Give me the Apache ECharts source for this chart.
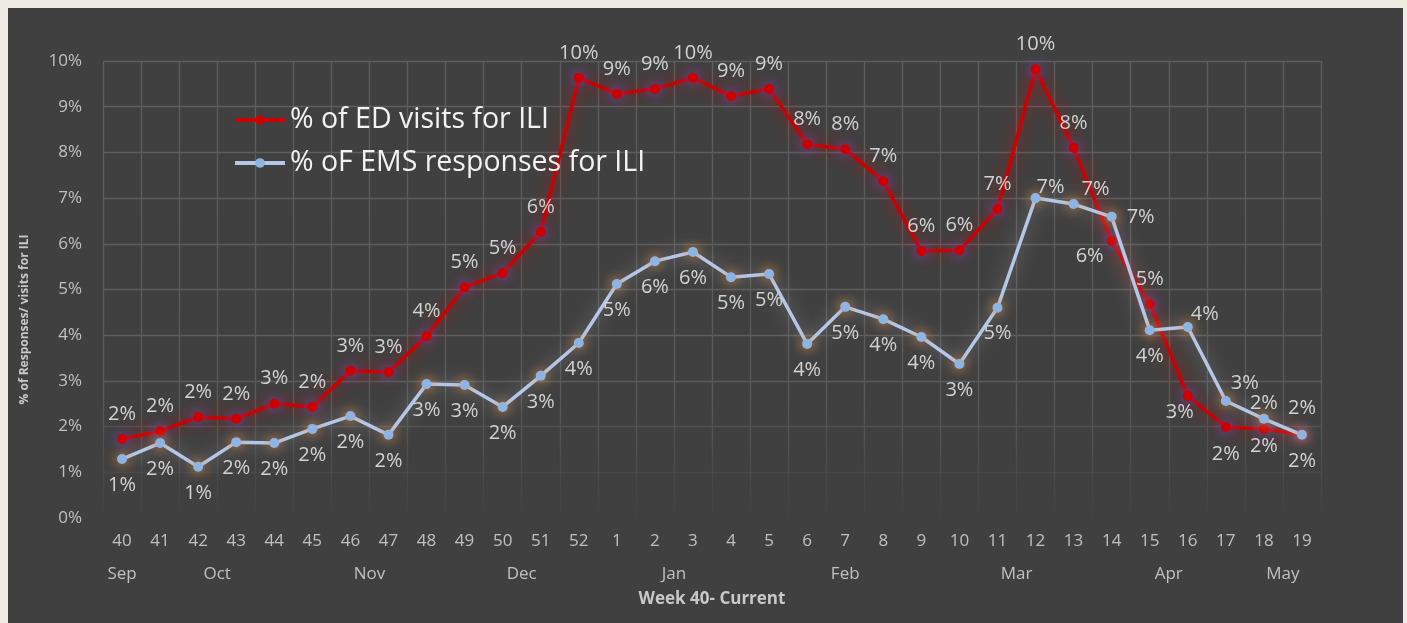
<!DOCTYPE html>
<html><head><meta charset="utf-8">
<script src="https://cdn.jsdelivr.net/npm/echarts@6/dist/echarts.min.js"></script>
<style>
html,body{margin:0;padding:0;background:#eeebe2;width:1407px;height:623px;overflow:hidden}
#chart{position:absolute;left:8px;top:8px;width:1395px;height:615px;background:#404040}
</style></head><body><div id="chart"></div>
<script>
// ---- data ----
const weeks = ['40','41','42','43','44','45','46','47','48','49','50','51','52','1','2','3','4','5','6','7','8','9','10','11','12','13','14','15','16','17','18','19'];
const monthOfWeek = ['Sep','Oct','Oct','Oct','Oct','Nov','Nov','Nov','Nov','Dec','Dec','Dec','Dec','Jan','Jan','Jan','Jan','Feb','Feb','Feb','Feb','Feb','Mar','Mar','Mar','Mar','Apr','Apr','Apr','Apr','May','May'];
const edVisits = [1.73,1.90,2.21,2.17,2.50,2.43,3.22,3.19,3.98,5.05,5.36,6.26,9.63,9.28,9.39,9.63,9.23,9.39,8.18,8.07,7.37,5.84,5.86,6.76,9.82,8.10,6.06,4.68,2.67,1.99,1.95,1.82];
const emsResponses = [1.29,1.64,1.12,1.66,1.64,1.95,2.23,1.82,2.93,2.91,2.43,3.11,3.83,5.12,5.62,5.82,5.27,5.34,3.81,4.62,4.35,3.96,3.37,4.60,7.00,6.87,6.59,4.11,4.18,2.56,2.17,1.82];
const seriesNames = ['% of ED visits for ILI','% oF EMS responses for ILI'];
const yTicks = [0,1,2,3,4,5,6,7,8,9,10];

// ---- month label centres (multi-level category axis) ----
const monthCentres = [];
(function(){
  let start = 0;
  for (let i = 1; i <= monthOfWeek.length; i++) {
    if (i === monthOfWeek.length || monthOfWeek[i] !== monthOfWeek[start]) {
      monthCentres.push({name: monthOfWeek[start], pos: (start + i - 1) / 2});
      start = i;
    }
  }
})();

// ---- label placement overrides (style) ----
const edLabelOv = {
  '14': {position:'bottom', distance:0, offset:[-22,0]},
  '16': {position:'bottom', distance:1, offset:[-8,0]},
  '17': {position:'bottom', distance:12},
  '18': {position:'bottom', distance:2},
  '19': {position:'bottom', distance:11}
};
const emsLabelOv = {
  '12': {position:'top', distance:0, offset:[15,4]},
  '13': {position:'top', distance:0, offset:[22,0]},
  '14': {position:'right', distance:10},
  '16': {position:'top', distance:0, offset:[17,2]},
  '17': {position:'top', distance:0, offset:[19,-3]},
  '18': {position:'top', distance:0, offset:[0,-1]},
  '19': {position:'top', distance:12}
};
function build(vals, ov){
  return vals.map((v,i)=>{
    const o = ov[weeks[i]];
    return o ? {value:v, label:o} : {value:v};
  });
}

const FONT = 'Open Sans';
const labelStyle = {show:true, fontFamily:FONT, fontSize:20, color:'#d2d2d2', formatter: p => Math.round(p.value) + '%'};

const chart = echarts.init(document.getElementById('chart'), null, {renderer:'canvas'});
chart.setOption({
  backgroundColor:'#404040',
  animation:false,
  textStyle:{fontFamily:FONT},
  grid:{left:95, right:82, top:53, bottom:105, containLabel:false},
  legend:{
    orient:'vertical', left:225, top:96, itemGap:11, padding:0,
    itemWidth:50, itemHeight:12,
    lineStyle:{width:4},
    textStyle:{fontFamily:FONT, fontSize:28.5, color:'#f2f2f2', lineHeight:32},
    data:seriesNames
  },
  xAxis:[{
    type:'category', data:weeks, boundaryGap:true,
    axisLine:{show:false}, axisTick:{show:false},
    axisLabel:{color:'#c0c0c0', fontFamily:FONT, fontSize:17, margin:15, interval:0},
    splitLine:{show:true, interval:0, lineStyle:{width:1.3, color:new echarts.graphic.LinearGradient(0,0,0,1,[
      {offset:0,color:'#5e5e5e'},{offset:0.72,color:'#5b5b5b'},{offset:1,color:'#414141'}])}},
    name:'Week 40- Current', nameLocation:'middle', nameGap:73,
    nameTextStyle:{color:'#c8c8c8', fontFamily:FONT, fontSize:17, fontWeight:'bold'}
  },{
    type:'value', min:-0.5, max:weeks.length-0.5, interval:0.5, position:'bottom',
    axisLine:{show:false}, axisTick:{show:false}, splitLine:{show:false},
    axisLabel:{color:'#c0c0c0', fontFamily:FONT, fontSize:17, margin:48, showMinLabel:false, showMaxLabel:false,
      formatter: v => { const m = monthCentres.find(c => Math.abs(c.pos - v) < 0.01); return m ? m.name : ''; }}
  }],
  yAxis:{
    type:'value', min:yTicks[0], max:yTicks[yTicks.length-1], interval:1,
    axisLine:{show:false}, axisTick:{show:false},
    axisLabel:{color:'#c0c0c0', fontFamily:FONT, fontSize:17, margin:21, formatter:'{value}%'},
    splitLine:{show:true, lineStyle:{width:1.3, color:['#414141','#484848','#525252','#5b5b5b','#5e5e5e','#5e5e5e','#5e5e5e','#5e5e5e','#5e5e5e','#5e5e5e','#5e5e5e']}},
    name:'% of Responses/ visits for ILI', nameLocation:'middle', nameGap:72, nameRotate:90,
    nameTextStyle:{color:'#c8c8c8', fontFamily:FONT, fontSize:12, fontWeight:'bold', padding:[0,60,0,0]}
  },
  series:[{
    name:seriesNames[0], type:'line', xAxisIndex:0, data:build(edVisits, edLabelOv),
    symbol:'circle', symbolSize:10,
    lineStyle:{color:'#cc0000', width:3.5, shadowBlur:16, shadowColor:'rgba(235,0,0,0.7)'},
    itemStyle:{color:'#cc0000', shadowBlur:12, shadowColor:'rgba(110,80,230,0.95)'},
    label:Object.assign({position:'top', distance:10}, labelStyle),
    z:2
  },{
    name:seriesNames[1], type:'line', xAxisIndex:0, data:build(emsResponses, emsLabelOv),
    symbol:'circle', symbolSize:10,
    lineStyle:{color:'#b4c7e7', width:3.5, shadowBlur:16, shadowColor:'rgba(200,200,215,0.5)'},
    itemStyle:{color:'#8eb4e3', shadowBlur:12, shadowColor:'rgba(235,140,50,1)'},
    label:Object.assign({position:'bottom', distance:11}, labelStyle),
    z:3
  }]
});
</script></body></html>
